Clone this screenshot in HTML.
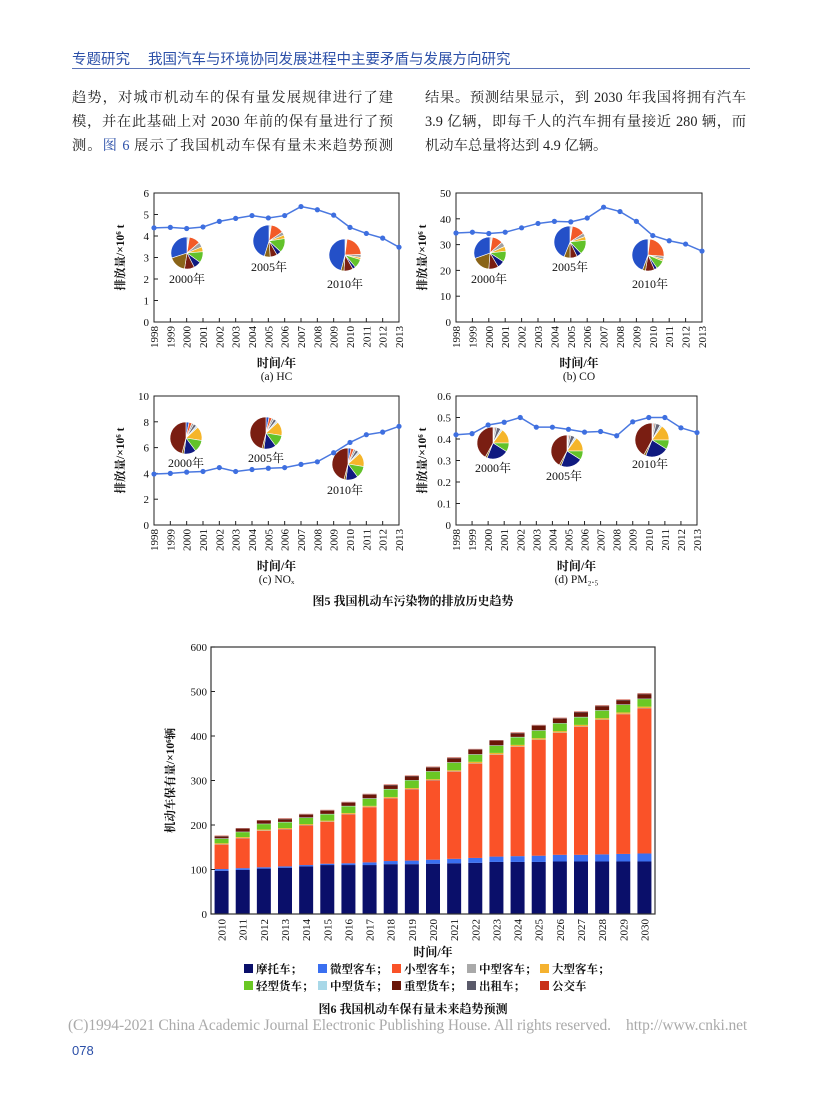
<!DOCTYPE html>
<html><head><meta charset="utf-8">
<style>
body{margin:0;background:#fff;}
#page{position:relative;width:827px;height:1102px;overflow:hidden;background:#fff;font-family:"Liberation Serif","Noto Serif CJK SC",serif;color:#222;}
.hd{position:absolute;top:48px;font-family:"Liberation Sans","Noto Sans CJK SC",sans-serif;font-size:14.5px;color:#2b4fa8;}
.ln{position:absolute;width:321px;font-size:14.3px;text-align:justify;text-align-last:justify;white-space:nowrap;height:20px;line-height:20px;}
svg{position:absolute;left:0;top:0;}
svg text{font-family:"Liberation Serif","Noto Serif CJK SC",serif;}
</style></head><body>
<div id="page">
<div class="hd" style="left:72px">专题研究</div>
<div class="hd" style="left:148px">我国汽车与环境协同发展进程中主要矛盾与发展方向研究</div>
<div style="position:absolute;left:72px;top:68px;width:678px;height:1px;background:#5b74b8"></div>
<div class="ln" style="left:72px;top:88px">趋势，对城市机动车的保有量发展规律进行了建</div>
<div class="ln" style="left:72px;top:112px">模，并在此基础上对 2030 年前的保有量进行了预</div>
<div class="ln" style="left:72px;top:136px">测。<span style="color:#2b4fa8">图 6</span> 展示了我国机动车保有量未来趋势预测</div>
<div class="ln" style="left:425px;top:88px">结果。预测结果显示，到 2030 年我国将拥有汽车</div>
<div class="ln" style="left:425px;top:112px">3.9 亿辆，即每千人的汽车拥有量接近 280 辆，而</div>
<div class="ln" style="left:425px;top:136px;text-align-last:left;width:auto">机动车总量将达到 4.9 亿辆。</div>

<svg id="svg" width="827" height="1102"></svg>

<div style="position:absolute;left:68px;top:1017px;font-size:15.5px;color:#aaa;white-space:nowrap;letter-spacing:-0.1px">(C)1994-2021 China Academic Journal Electronic Publishing House. All rights reserved.&nbsp;&nbsp;&nbsp;&nbsp;http://www.cnki.net</div>
<div style="position:absolute;left:72px;top:1043px;font-family:'Liberation Sans',sans-serif;font-size:13px;color:#2b4fa8">078</div>
</div>
<script>
const years = [1998,1999,2000,2001,2002,2003,2004,2005,2006,2007,2008,2009,2010,2011,2012,2013];
const hcValues = [4.38,4.4,4.35,4.42,4.68,4.82,4.95,4.84,4.95,5.37,5.22,4.97,4.4,4.12,3.9,3.48];
const coValues = [34.5,34.8,34.3,34.8,36.5,38.2,39,38.8,40.3,44.5,42.8,39,33.5,31.5,30.2,27.5];
const noxValues = [3.95,4.0,4.1,4.15,4.45,4.15,4.3,4.4,4.45,4.7,4.9,5.6,6.4,7.0,7.2,7.65];
const pmValues = [0.42,0.425,0.465,0.478,0.5,0.455,0.455,0.445,0.432,0.435,0.415,0.48,0.5,0.5,0.452,0.43];
const hcTicks = [0,1,2,3,4,5,6];
const coTicks = [0,10,20,30,40,50];
const noxTicks = [0,2,4,6,8,10];
const pmTicks = [0,0.1,0.2,0.3,0.4,0.5,0.6];
const pieColors = ["#2450c8","#f25a28","#a0a0a0","#f5b52a","#62c22a","#101a80","#7a1e12","#8a6418","#666677","#c8dde8"];
const hcShares2000 = [24,9,4,4,9,6,8,14,1,1];
const hcShares2005 = [38,11,3,3,12,4,6,5,1,1];
const hcShares2010 = [45,22,3,2,9,3,9,3,1,1];
const coShares2000 = [25,9,4,4,9,6,8,15,1,1];
const coShares2005 = [36,11,3,3,12,4,6,5,1,1];
const coShares2010 = [44,24,3,2,9,3,9,3,1,1];
const noxShares = [3,3,2,14,12,12,45,2,3,2];
const pmShares = [1,1,2,15,9,22,42,2,4,2];
const barYears = [2010,2011,2012,2013,2014,2015,2016,2017,2018,2019,2020,2021,2022,2023,2024,2025,2026,2027,2028,2029,2030];
const motorcycle = [97,99,102,104,107,110,110,110,112,112,113,114,115,117,117,117,118,118,118,118,118];
const microBus = [4,4,3,3,3,3,4,6,7,8,9,10,11,12,13,14,15,15,16,17,18];
const smallBus = [55,67,82,83,89,94,110,124,141,160,178,196,212,229,246,260,274,288,302,314,326];
const midBus = [1,1,1,1,1,1,1,1,1,1,1,1,1,1,1,1,1,1,1,1,1];
const largeBus = [2,2,2,2,2,2,2,2,2,2,2,2,3,3,3,3,3,3,3,3,3];
const lightTruck = [10,11,12,13,14,14,15,16,17,17,17,17,16,16,17,17,17,17,17,17,17];
const midTruck = [1,1,1,1,1,1,1,1,1,1,1,1,1,1,1,1,1,1,1,1,1];
const heavyTruck = [4,6,6,6,6,7,7,8,8,8,8,9,10,10,8,10,10,10,9,9,10];
const taxi = [1,1,1,1,1,1,1,1,1,1,1,1,1,1,1,1,1,1,1,1,1];
const bus = [1,1,1,1,1,1,1,1,1,1,1,1,1,1,1,1,1,1,1,1,1];
const barTicks = [0,100,200,300,400,500,600];
const legendLabels = ["摩托车；","微型客车；","小型客车；","中型客车；","大型客车；","轻型货车；","中型货车；","重型货车；","出租车；","公交车"];

const NS="http://www.w3.org/2000/svg";
const svg=document.getElementById('svg');
function el(tag,attrs,parent){const e=document.createElementNS(NS,tag);for(const k in attrs)e.setAttribute(k,attrs[k]);(parent||svg).appendChild(e);return e;}
function txt(x,y,s,size,anchor,parent,extra){const t=el('text',Object.assign({x:x,y:y,'font-size':size,'text-anchor':anchor||'middle',fill:'#111'},extra||{}),parent);t.textContent=s;return t;}

const orderHC=[8,9,1,2,3,4,5,6,7,0];
const orderPM=[0,1,2,8,9,3,4,5,7,6];
function pie(g,cx,cy,r,shares,order){
  const tot=shares.reduce((a,b)=>a+b,0);let a0=-Math.PI/2;
  order.forEach(i=>{const v=shares[i];const a1=a0+v/tot*2*Math.PI;
    const p=el('path',{d:`M${cx},${cy}L${cx+r*Math.cos(a0)},${cy+r*Math.sin(a0)}A${r},${r} 0 ${a1-a0>Math.PI?1:0} 1 ${cx+r*Math.cos(a1)},${cy+r*Math.sin(a1)}Z`,fill:pieColors[i],stroke:'#fff','stroke-width':0.6},g);
    
    
    a0=a1;});
}

function lineChart(name,L,R,T,B,ticks,values,fmt,caption,pies,order){
  const g=el('g',{});
  
  
  const ymax=ticks[ticks.length-1];
  const sx=i=>L+(R-L)*i/(years.length-1);
  const sy=v=>B-(B-T)*v/ymax;
  pies.forEach(p=>{pie(g,p[0],p[1],p[2],p[3],order);const l=txt(p[4],p[5],p[6],12,'middle',g);});
  const fr=el('rect',{x:L,y:T,width:R-L,height:B-T,fill:'none',stroke:'#222','stroke-width':1},g);
  
  
  ticks.forEach(t=>{el('line',{x1:L,x2:L+4,y1:sy(t),y2:sy(t),stroke:'#222'},g);const tl=txt(L-5,sy(t)+4,fmt(t),11,'end',g);});
  years.forEach((y,i)=>{el('line',{x1:sx(i),x2:sx(i),y1:B,y2:B-4,stroke:'#222'},g);const tl=txt(0,0,String(y),11,'end',g,{transform:`translate(${sx(i)+4},${B+4}) rotate(-90)`});});
  const pl=el('polyline',{points:values.map((v,i)=>sx(i)+','+sy(v)).join(' '),fill:'none',stroke:'#4a78e0','stroke-width':1.5},g);
  
  
  values.forEach((v,i)=>{const c=el('circle',{cx:sx(i),cy:sy(v),r:2.6,fill:'#3e6fe0'},g);});
  const yt=txt(0,0,'排放量/×10⁶ t',11.5,'middle',g,{transform:`translate(${L-30},${(T+B)/2}) rotate(-90)`,'font-weight':'bold'});
  
  const xt=txt((L+R)/2,B+45,'时间/年',12,'middle',g,{'font-weight':'bold'});
  
  const cp=txt((L+R)/2,B+58,caption,11.5,'middle',g);
  
}
lineChart('chart-hc',154,399,193,322,hcTicks,hcValues,t=>String(t),'(a)  HC',
 [[187,253,16,hcShares2000,187,283,'2000年'],[269,241,16,hcShares2005,269,271,'2005年'],[345,255,16,hcShares2010,345,288,'2010年']],orderHC);
lineChart('chart-co',456,702,193,322,coTicks,coValues,t=>String(t),'(b)  CO',
 [[490,253,16,coShares2000,489,283,'2000年'],[570,242,16,coShares2005,570,271,'2005年'],[648,255,16,coShares2010,650,288,'2010年']],orderHC);
lineChart('chart-nox',154,399,396,525,noxTicks,noxValues,t=>String(t),'(c)  NOₓ',
 [[186,438,16,noxShares,186,467,'2000年'],[266,433,16,noxShares,266,462,'2005年'],[348,464,16,noxShares,345,494,'2010年']],orderPM);
lineChart('chart-pm25',456,697,396,525,pmTicks,pmValues,t=>t===0?'0':t.toFixed(1),'(d)  PM₂.₅',
 [[493,443,16,pmShares,493,472,'2000年'],[567,451,16,pmShares,564,480,'2005年'],[652,440,17,pmShares,650,468,'2010年']],orderPM);
const c5=txt(413,605,'图5   我国机动车污染物的排放历史趋势',12,'middle',svg,{'font-weight':'bold'});


(function(){
  const g=el('g',{});
  
  
  const L=211,R=655,T=647,B=914,ymax=600;
  const sy=v=>B-(B-T)*v/ymax;
  const slot=(R-L)/barYears.length,bw=14;
  const series=[motorcycle,microBus,smallBus,midBus,largeBus,lightTruck,midTruck,heavyTruck,taxi,bus];
  const colors=["#0a0f6a","#3a6ff0","#fa5228","#a9a9a9","#f5b230","#6ac824","#a8d8e8","#6a1608","#5a5a6a","#c83018"];
  barYears.forEach((y,i)=>{
    let acc=0;const x=L+slot*i+(slot-bw)/2;
    series.forEach((s,k)=>{
      const r=el('rect',{x:x,y:sy(acc+s[i]),width:bw,height:(B-T)*s[i]/ymax,fill:colors[k]},g);
      
      
      acc+=s[i];});
    const tl=txt(0,0,String(y),11,'end',g,{transform:`translate(${L+slot*i+slot/2+4},${B+5}) rotate(-90)`});
    
  });
  const fr=el('rect',{x:L,y:T,width:R-L,height:B-T,fill:'none',stroke:'#333','stroke-width':1.2},g);
  
  barTicks.forEach(t=>{el('line',{x1:L,x2:L+4,y1:sy(t),y2:sy(t),stroke:'#222'},g);const tl=txt(L-4,sy(t)+4,String(t),11,'end',g);});
  const yt=txt(0,0,'机动车保有量/×10⁶辆',11.5,'middle',g,{transform:`translate(${L-37},${(T+B)/2}) rotate(-90)`,'font-weight':'bold'});
  
  const xt=txt((L+R)/2,B+42,'时间/年',12,'middle',g,{'font-weight':'bold'});
  
  const lx=[244,318,392,467,540];
  legendLabels.forEach((lab,k)=>{
    const x=lx[k%5],y=k<5?969:986;
    const lg=el('g',{},g);
    
    
    el('rect',{x:x,y:y-5,width:9,height:9,fill:colors[k]},lg);
    txt(x+12,y+4,lab,11.5,'start',lg,{'font-weight':'bold'});
  });
  const c6=txt(413,1013,'图6   我国机动车保有量未来趋势预测',12,'middle',svg,{'font-weight':'bold'});
  
})();
</script>
</body></html>
